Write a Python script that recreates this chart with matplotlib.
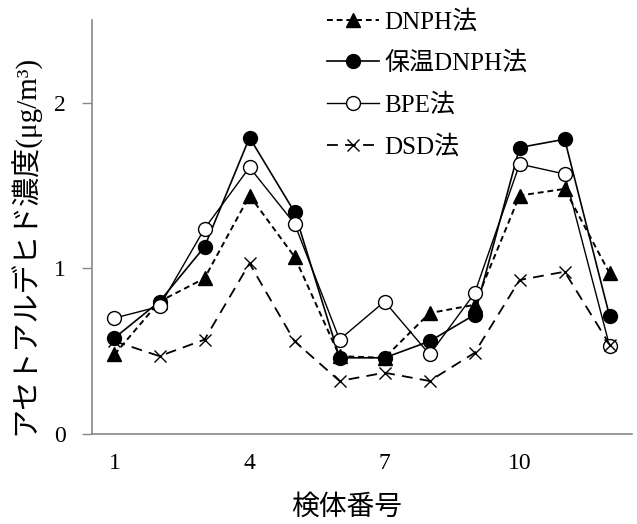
import matplotlib
matplotlib.use('Agg')
import matplotlib.pyplot as plt
import numpy as np

plt.rcParams['font.family'] = ['Liberation Serif', 'Noto Sans CJK JP']

samples = np.arange(1, 13)
dnph = [0.48, 0.80, 0.94, 1.44, 1.07, 0.47, 0.46, 0.73, 0.78, 1.44, 1.48, 0.97]
dnph_warm = [0.58, 0.80, 1.13, 1.79, 1.34, 0.46, 0.46, 0.56, 0.72, 1.73, 1.78, 0.71]
bpe = [0.70, 0.77, 1.24, 1.61, 1.27, 0.57, 0.80, 0.48, 0.85, 1.63, 1.57, 0.53]
dsd = [0.56, 0.47, 0.57, 1.03, 0.56, 0.32, 0.37, 0.32, 0.49, 0.93, 0.98, 0.54]
labels = ['DNPH法', '保温DNPH法', 'BPE法', 'DSD法']

fig = plt.figure(figsize=(6.37, 5.24), dpi=100)
ax = fig.add_axes([0.1444, 0.1718, 0.848, 0.79])

ax.plot(samples, dnph, 'k--', marker='^', ms=10, lw=1.4, dashes=(3, 2), label=labels[0])
ax.plot(samples, dnph_warm, 'k-', marker='o', ms=10, lw=1.2, label=labels[1])
ax.plot(samples, bpe, 'k-', marker='o', ms=10, lw=1.0, mfc='white', label=labels[2])
ax.plot(samples, dsd, 'k--', marker='x', ms=8, lw=1.3, dashes=(6, 4), label=labels[3])

ax.set_xlim(0.5, 12.5)
ax.set_ylim(0, 2.5)
ax.set_xticks([1, 4, 7, 10])
ax.set_yticks([0, 1, 2])
ax.tick_params(axis='x', length=0, labelsize=17, pad=14)
ax.tick_params(axis='y', length=7, width=1, color='#888888', labelsize=17, pad=12)
for s in ['top', 'right']:
    ax.spines[s].set_visible(False)
for s in ['left', 'bottom']:
    ax.spines[s].set_color('#888888')
    ax.spines[s].set_linewidth(1.2)

ax.set_xlabel('検体番号', fontsize=20)
ax.xaxis.set_label_coords(0.472, -0.148)
ax.set_ylabel('アセトアルデヒド濃度(μg/m³)', fontsize=21)
ax.yaxis.set_label_coords(-0.095, 0.457)

ax.legend(loc='upper left', bbox_to_anchor=(0.435, 1.025), frameon=False,
          borderpad=0, borderaxespad=0,
          fontsize=18, handlelength=2.1, handletextpad=0.2, labelspacing=0.72)

fig.savefig('out.png', dpi=100)
